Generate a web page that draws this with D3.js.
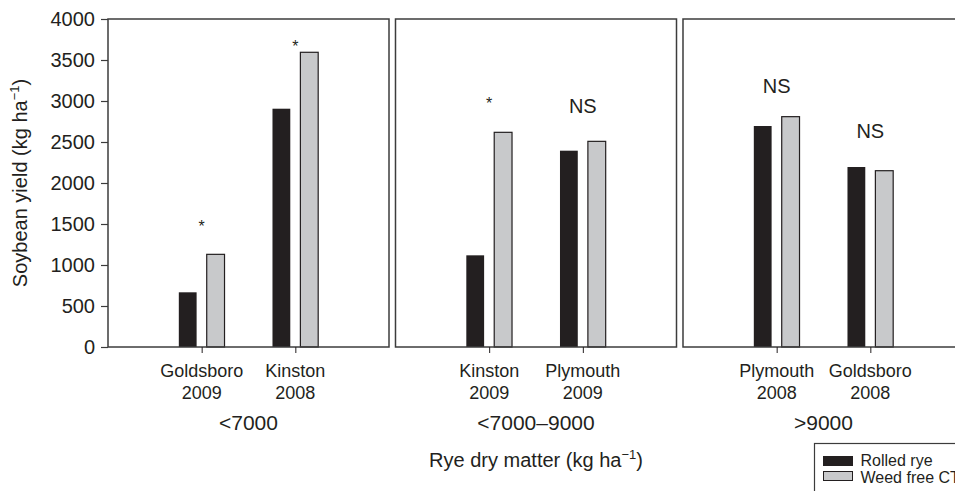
<!DOCTYPE html>
<html>
<head>
<meta charset="utf-8">
<script src="https://cdn.jsdelivr.net/npm/d3@7"></script>
<style>
body { margin: 0; background: #fff; }
text { font-family: "Liberation Sans", Arial, sans-serif; fill: #231f20; }
</style>
</head>
<body>
<svg width="955" height="491"></svg>
<script>
// data
var groups = ["<7000", "<7000\u20139000", ">9000"];
var sites = [["Goldsboro", "Kinston"], ["Kinston", "Plymouth"], ["Plymouth", "Goldsboro"]];
var years = [["2009", "2008"], ["2009", "2009"], ["2008", "2008"]];
var rolledRye = [[667, 2906], [1118, 2394], [2695, 2195]];
var weedFreeCT = [[1130, 3594], [2618, 2508], [2809, 2150]];
var signif = [["*", "*"], ["*", "NS"], ["NS", "NS"]];
var signifAt = [[1400, 3600], [2900, 2855], [3100, 2550]];   // label height, kg/ha
var seriesNames = ["Rolled rye", "Weed free CT"];
var yTicks = [0, 500, 1000, 1500, 2000, 2500, 3000, 3500, 4000];

var colors = ["#231f20", "#c8c9cb"];
var frameColor = "#3c3c3c";

var svg = d3.select("svg");

var y = d3.scaleLinear()
    .domain([0, 4000])
    .range([347, 19]);

// one band per rye dry-matter class
var panel = d3.scaleBand()
    .domain(groups)
    .range([108, 964])
    .paddingInner(0.0226);

var inner = d3.scaleBand()
    .domain(seriesNames)
    .paddingInner(0.362);

groups.forEach(function(g, gi) {
    var x0 = panel(g), w = panel.bandwidth();
    var idx = [0, 1];
    var x = d3.scalePoint()
        .domain(idx)
        .range([x0, x0 + w])
        .padding(1);
    var step = x.step();
    inner.range([-0.244 * step, 0.244 * step]);

    var gp = svg.append("g");

    // bars
    idx.forEach(function(i) {
        var vals = [rolledRye[gi][i], weedFreeCT[gi][i]];
        gp.selectAll(null)
            .data(vals)
            .enter()
            .append("rect")
            .attr("x", function(d, k) { return x(i) + inner(seriesNames[k]); })
            .attr("y", function(d) { return y(d); })
            .attr("width", inner.bandwidth())
            .attr("height", function(d) { return y(0) - y(d); })
            .attr("fill", function(d, k) { return colors[k]; })
            .attr("stroke", function(d, k) { return k == 1 ? "#231f20" : "none"; })
            .attr("stroke-width", 1.2);
    });

    // significance labels
    gp.selectAll(null)
        .data(idx)
        .enter()
        .append("text")
        .attr("x", function(i) { return x(i); })
        .attr("y", function(i) { return y(signifAt[gi][i]); })
        .attr("text-anchor", "middle")
        .style("font-size", function(i) { return signif[gi][i] == "*" ? "16px" : "20px"; })
        .text(function(i) { return signif[gi][i]; });

    // frame
    gp.append("rect")
        .attr("x", x0)
        .attr("y", y(4000))
        .attr("width", w)
        .attr("height", y(0) - y(4000))
        .attr("fill", "none")
        .attr("stroke", frameColor)
        .attr("stroke-width", 1.5);

    // bottom ticks
    var ax = gp.append("g")
        .attr("transform", "translate(0," + y(0) + ")")
        .call(d3.axisBottom(x).tickSize(6).tickFormat(""));
    ax.select(".domain").remove();
    ax.selectAll(".tick line").attr("stroke", "#231f20");

    // site / year labels
    var lab = gp.selectAll(null)
        .data(idx)
        .enter()
        .append("text")
        .attr("text-anchor", "middle")
        .style("font-size", "18px");
    lab.append("tspan")
        .attr("x", function(i) { return x(i); })
        .attr("y", 377)
        .text(function(i) { return sites[gi][i]; });
    lab.append("tspan")
        .attr("x", function(i) { return x(i); })
        .attr("y", 399)
        .text(function(i) { return years[gi][i]; });

    gp.append("text")
        .attr("x", (x(0) + x(1)) / 2)
        .attr("y", 430)
        .attr("text-anchor", "middle")
        .style("font-size", "21px")
        .text(g);
});

// y axis
var yAxis = svg.append("g")
    .attr("transform", "translate(108,0)")
    .call(d3.axisLeft(y).tickValues(yTicks).tickFormat(d3.format("d")).tickSize(7).tickPadding(6));
yAxis.select(".domain").remove();
yAxis.selectAll(".tick line").attr("stroke", frameColor).attr("stroke-width", 1.2);
yAxis.selectAll(".tick text")
    .style("font-size", "20px")
    .style("font-family", "'Liberation Sans', Arial, sans-serif")
    .attr("fill", "#231f20");

// axis titles
var yt = svg.append("text")
    .attr("transform", "translate(27," + (y(0) + y(4000)) / 2 + ") rotate(-90)")
    .attr("text-anchor", "middle")
    .style("font-size", "20px");
yt.append("tspan").text("Soybean yield (kg ha");
yt.append("tspan").attr("dy", -8).style("font-size", "13px").text("\u22121");
yt.append("tspan").attr("dy", 8).text(")");

var xt = svg.append("text")
    .attr("x", panel(groups[1]) + panel.bandwidth() / 2)
    .attr("y", 467)
    .attr("text-anchor", "middle")
    .style("font-size", "20px");
xt.append("tspan").text("Rye dry matter (kg ha");
xt.append("tspan").attr("dy", -8).style("font-size", "13px").text("\u22121");
xt.append("tspan").attr("dy", 8).text(")");

// legend
var lg = svg.append("g").attr("transform", "translate(814.5,443.5)");
lg.append("rect")
    .attr("width", 200)
    .attr("height", 80)
    .attr("fill", "#fff")
    .attr("stroke", frameColor)
    .attr("stroke-width", 1.2);
seriesNames.forEach(function(s, k) {
    lg.append("rect")
        .attr("x", 9)
        .attr("y", 13 + k * 15)
        .attr("width", 29)
        .attr("height", 9)
        .attr("fill", colors[k])
        .attr("stroke", "#231f20")
        .attr("stroke-width", 1);
    lg.append("text")
        .attr("x", 46)
        .attr("y", 22 + k * 17)
        .style("font-size", "16px")
        .text(s);
});
</script>
</body>
</html>
